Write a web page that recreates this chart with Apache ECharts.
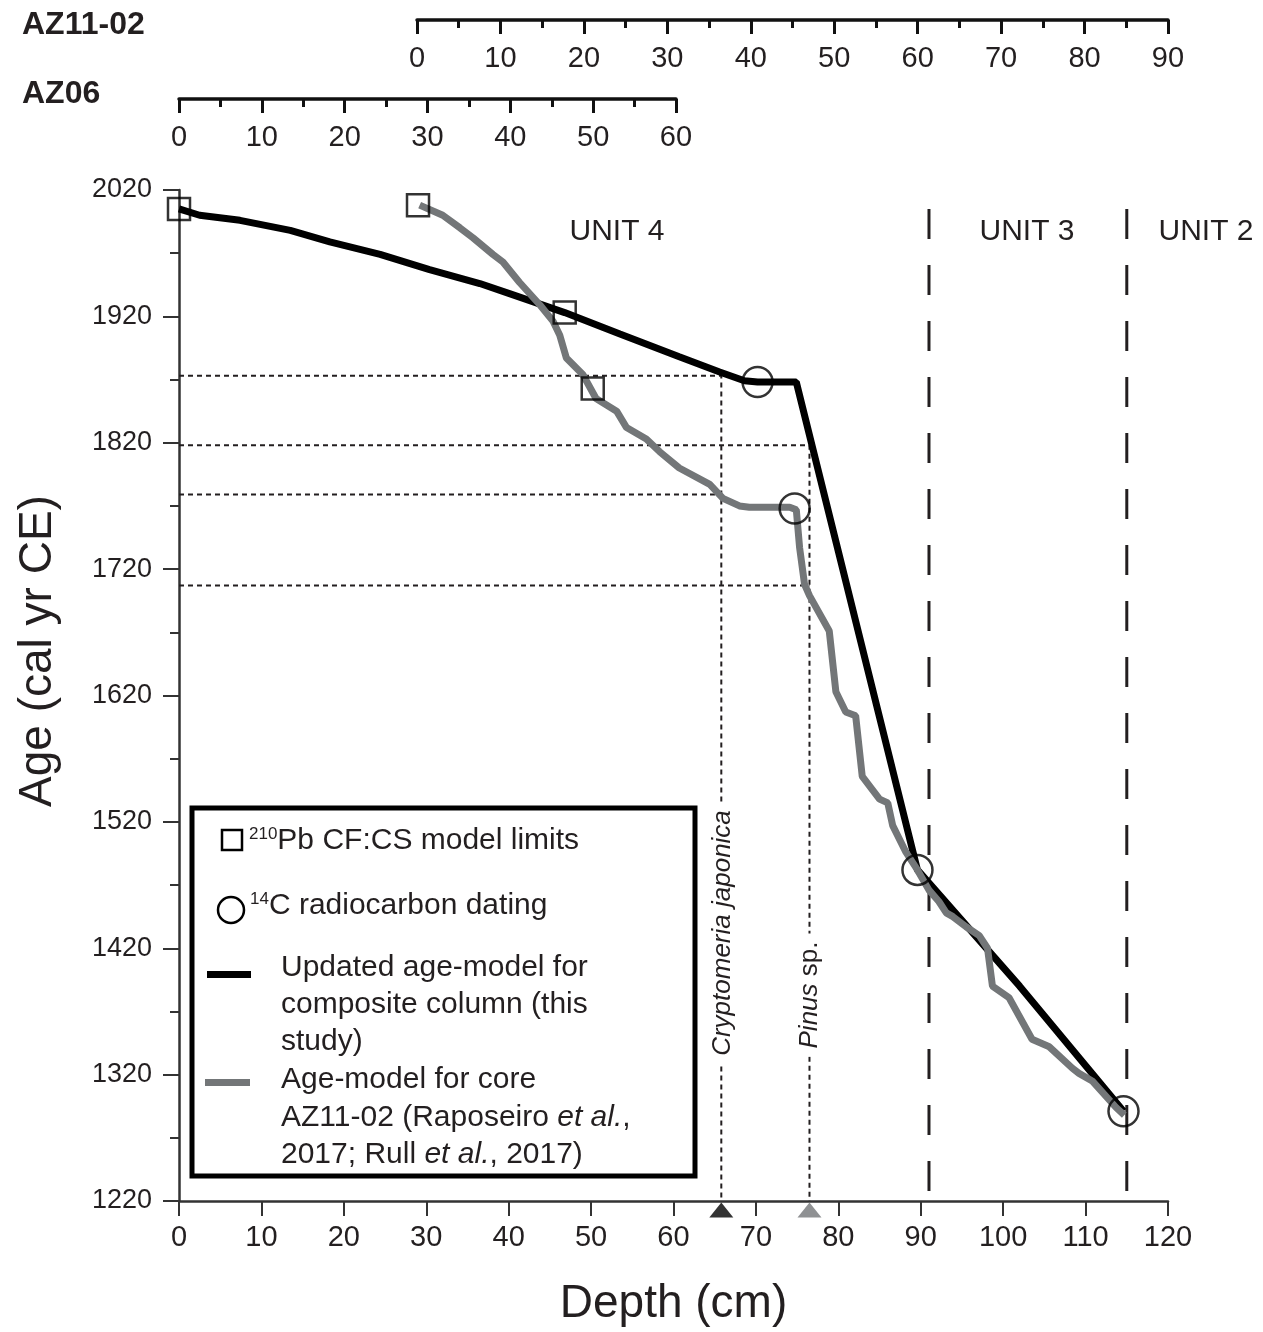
<!DOCTYPE html>
<html>
<head>
<meta charset="utf-8">
<script src="https://cdn.jsdelivr.net/npm/echarts@6/dist/echarts.min.js"></script>
<style>
  html, body { margin: 0; padding: 0; background: #fff; }
  #chart { width: 1263px; height: 1332px; }
</style>
</head>
<body>
<div id="chart"></div>
<script>
// values: depth in cm, age in cal yr CE
const compositeDepth = [0, 2.5, 7.4, 13.5, 18.3, 24.4, 30.4, 36.5, 40.1, 46.8, 53.5, 60.7, 65.6, 68.6, 70.2, 74.9, 89.6, 102, 114.6];
const compositeAge = [2005, 2000, 1996, 1988, 1979, 1969, 1957, 1946, 1938, 1923, 1906, 1888, 1876, 1869, 1868, 1868, 1482, 1390, 1291];

const az1102Depth = [29.2, 32.0, 34.1, 35.7, 38.1, 39.3, 41.3, 43.8, 45.4, 46.2, 47.0, 49.0, 50.6, 53.1, 54.3, 56.7, 58.3, 60.7, 64.4, 66.0, 68.0, 69.2, 74.1, 74.9,
  75.3, 75.9, 76.5, 78.9, 79.7, 80.9, 82.1, 82.9, 85.0, 86.0, 86.6, 88.2, 89.6, 91.0, 92.2, 93.1, 93.9, 95.5, 97.1, 98.1, 98.7, 100.7, 103.5, 105.6, 108.4, 109.2, 110.8, 113.7, 114.7];
const az1102Age = [2008, 2000, 1990, 1982, 1969, 1963, 1947, 1929, 1916, 1905, 1887, 1874, 1855, 1845, 1832, 1823, 1813, 1800, 1787, 1776, 1770, 1769, 1769, 1767,
  1737, 1708, 1699, 1671, 1623, 1607, 1604, 1556, 1538, 1535, 1517, 1496, 1482, 1466, 1457, 1448, 1445, 1437, 1430, 1420, 1390, 1381, 1348, 1342, 1325, 1321, 1315, 1294, 1288];

const pbDepth = [0, 29, 46.8, 50.2];
const pbAge = [2005, 2008, 1923, 1863];
const c14Depth = [70.2, 74.7, 89.6, 114.6];
const c14Age = [1868, 1768, 1482, 1291];

const unitBoundaryDepth = [91, 115];
const unitBoundaryTop = 2005;

// pollen markers: Cryptomeria japonica, Pinus sp.
const markerDepth = [65.8, 76.5];
const markerAgeUpper = [1873, 1818];
const markerAgeLower = [1779, 1707];
const markerColor = ['#000000', '#737678'];

const ageMin = 1220, ageMax = 2020, ageStep = 100;
const depthMin = 0, depthMax = 120, depthStep = 10;
const az1102Max = 90, az06Max = 60;

const FONT = "'Liberation Sans', Arial, sans-serif";
const TXT = '#231f20';

const chart = echarts.init(document.getElementById('chart'));

function zip(xs, ys) { return xs.map((x, i) => [x, ys[i]]); }

function dotted(data) {
  return {
    type: 'line', data: data, symbol: 'none', silent: true, z: 1,
    lineStyle: { color: '#231f20', width: 2, type: [5, 4] }
  };
}

const series = [];
markerDepth.forEach((d, i) => {
  series.push(dotted([[depthMin, markerAgeUpper[i]], [d, markerAgeUpper[i]], [d, ageMin]]));
  series.push(dotted([[depthMin, markerAgeLower[i]], [d, markerAgeLower[i]]]));
});
unitBoundaryDepth.forEach(d => {
  series.push({
    type: 'line', data: [[d, unitBoundaryTop], [d, ageMin]], symbol: 'none', silent: true, z: 1,
    lineStyle: { color: '#231f20', width: 3, type: [30, 26] }
  });
});
series.push({
  type: 'line', name: 'composite', data: zip(compositeDepth, compositeAge), symbol: 'none', z: 3,
  lineStyle: { color: '#000', width: 7 }
});
series.push({
  type: 'line', name: 'AZ11-02', data: zip(az1102Depth, az1102Age), symbol: 'none', z: 4,
  lineStyle: { color: '#737678', width: 7 }
});
series.push({
  type: 'scatter', data: zip(pbDepth, pbAge), symbol: 'rect', symbolSize: 22, clip: false, z: 5,
  itemStyle: { color: 'rgba(0,0,0,0)', borderColor: '#000', borderWidth: 2.5 }
});
series.push({
  type: 'scatter', data: zip(c14Depth, c14Age), symbol: 'circle', symbolSize: 30, clip: false, z: 5,
  itemStyle: { color: 'rgba(0,0,0,0)', borderColor: '#000', borderWidth: 2.5 }
});
series.push({
  type: 'scatter', clip: false, z: 6,
  data: markerDepth.map((d, i) => ({ value: [d, ageMin], itemStyle: { color: markerColor[i] } })),
  symbol: 'triangle', symbolSize: [24, 15], symbolOffset: [0, 9]
});

// empty series so the two top axes are built
series.push({ type: 'line', xAxisIndex: 1, yAxisIndex: 1, data: [], silent: true });
series.push({ type: 'line', xAxisIndex: 2, yAxisIndex: 2, data: [], silent: true });

const plain = v => String(v);

function topAxis(gi, max) {
  return {
    type: 'value', gridIndex: gi, position: 'bottom', min: 0, max: max, interval: 10,
    axisLine: { lineStyle: { color: '#111', width: 3.5 } },
    axisTick: { length: 14, lineStyle: { color: '#111', width: 3 } },
    minorTick: { show: true, splitNumber: 2, length: 8, lineStyle: { color: '#111', width: 3 } },
    axisLabel: { margin: 24, fontSize: 29, fontFamily: FONT, color: TXT, formatter: plain },
    splitLine: { show: false }
  };
}

const legendText = (x, y, text) => ({
  type: 'text', x: x, y: y, z: 102,
  style: {
    text: text, fontSize: 30, fontFamily: FONT, fill: TXT, verticalAlign: 'middle',
    rich: {
      sup: { fontSize: 17, fontFamily: FONT, fill: TXT, verticalAlign: 'top', lineHeight: 30 },
      n: { fontSize: 30, fontFamily: FONT, fill: TXT, lineHeight: 30 },
      i: { fontSize: 30, fontFamily: FONT, fill: TXT, fontStyle: 'italic', lineHeight: 30 }
    }
  }
});

const option = {
  animation: false,
  backgroundColor: '#fff',
  grid: [
    { left: 179, right: 95, top: 190, bottom: 128 },
    { left: 417, width: 751, top: 20, height: 0 },
    { left: 179, width: 497, top: 99, height: 0 }
  ],
  xAxis: [
    {
      type: 'value', gridIndex: 0, min: depthMin, max: depthMax, interval: depthStep,
      name: 'Depth (cm)', nameLocation: 'middle', nameGap: 80,
      nameTextStyle: { fontSize: 46, fontFamily: FONT, color: TXT },
      axisLine: { lineStyle: { color: '#333', width: 2.5 } },
      axisTick: { length: 15, lineStyle: { color: '#333', width: 2 } },
      axisLabel: { margin: 22, fontSize: 29, fontFamily: FONT, color: TXT, formatter: plain },
      splitLine: { show: false }
    },
    topAxis(1, az1102Max),
    topAxis(2, az06Max)
  ],
  yAxis: [
    {
      type: 'value', gridIndex: 0, min: ageMin, max: ageMax, interval: ageStep,
      axisLine: { show: true, lineStyle: { color: '#333', width: 2.5 } },
      axisTick: { show: true, length: 16, lineStyle: { color: '#333', width: 2 } },
      minorTick: { show: true, splitNumber: 2, length: 9, lineStyle: { color: '#333', width: 2 } },
      axisLabel: { margin: 27, fontSize: 27, fontFamily: FONT, color: TXT, formatter: plain },
      splitLine: { show: false }
    },
    { type: 'value', gridIndex: 1, show: false },
    { type: 'value', gridIndex: 2, show: false }
  ],
  series: series,
  graphic: [
    // core labels
    { type: 'text', x: 22, y: 25, style: { text: 'AZ11-02', fontSize: 32, fontWeight: 'bold', fontFamily: FONT, fill: TXT, verticalAlign: 'middle' } },
    { type: 'text', x: 22, y: 94, style: { text: 'AZ06', fontSize: 32, fontWeight: 'bold', fontFamily: FONT, fill: TXT, verticalAlign: 'middle' } },
    // y axis title
    { type: 'text', x: 38, y: 651, rotation: Math.PI / 2, style: { text: 'Age (cal yr CE)', fontSize: 46, fontFamily: FONT, fill: TXT, align: 'center', verticalAlign: 'middle' } },
    // unit labels
    { type: 'text', x: 617, y: 232, style: { text: 'UNIT 4', fontSize: 30, fontFamily: FONT, fill: TXT, align: 'center', verticalAlign: 'middle' } },
    { type: 'text', x: 1027, y: 232, style: { text: 'UNIT 3', fontSize: 30, fontFamily: FONT, fill: TXT, align: 'center', verticalAlign: 'middle' } },
    { type: 'text', x: 1206, y: 232, style: { text: 'UNIT 2', fontSize: 30, fontFamily: FONT, fill: TXT, align: 'center', verticalAlign: 'middle' } },
    // pollen marker labels
    { type: 'text', x: 723, y: 933, rotation: Math.PI / 2, z: 50, style: { text: 'Cryptomeria japonica', fontSize: 26, fontStyle: 'italic', fontFamily: FONT, fill: TXT, align: 'center', verticalAlign: 'middle', backgroundColor: '#fff', padding: [0, 8] } },
    { type: 'text', x: 810, y: 995, rotation: Math.PI / 2, z: 50, style: { text: '{i|Pinus} sp.', fontSize: 26, fontFamily: FONT, fill: TXT, align: 'center', verticalAlign: 'middle', backgroundColor: '#fff', padding: [0, 8], rich: { i: { fontSize: 26, fontStyle: 'italic', fontFamily: FONT, fill: TXT } } } },
    // legend box
    { type: 'rect', z: 100, shape: { x: 192, y: 808, width: 503, height: 368 }, style: { fill: '#fff', stroke: '#000', lineWidth: 5 } },
    { type: 'rect', z: 101, shape: { x: 222, y: 830, width: 20, height: 20 }, style: { fill: 'none', stroke: '#000', lineWidth: 2.5 } },
    { type: 'circle', z: 101, shape: { cx: 231, cy: 910, r: 13 }, style: { fill: 'none', stroke: '#000', lineWidth: 2.5 } },
    { type: 'rect', z: 101, shape: { x: 207, y: 971, width: 44, height: 7 }, style: { fill: '#000' } },
    { type: 'rect', z: 101, shape: { x: 205, y: 1079, width: 45, height: 7 }, style: { fill: '#737678' } },
    legendText(249, 841, '{sup|210}{n|Pb CF:CS model limits}'),
    legendText(250, 906, '{sup|14}{n|C radiocarbon dating}'),
    legendText(281, 968, '{n|Updated age-model for}'),
    legendText(281, 1005, '{n|composite column (this}'),
    legendText(281, 1042, '{n|study)}'),
    legendText(281, 1080, '{n|Age-model for core}'),
    legendText(281, 1118, '{n|AZ11-02 (Raposeiro }{i|et al.}{n|,}'),
    legendText(281, 1155, '{n|2017; Rull }{i|et al.}{n|, 2017)}')
  ]
};

chart.setOption(option);
</script>
</body>
</html>
